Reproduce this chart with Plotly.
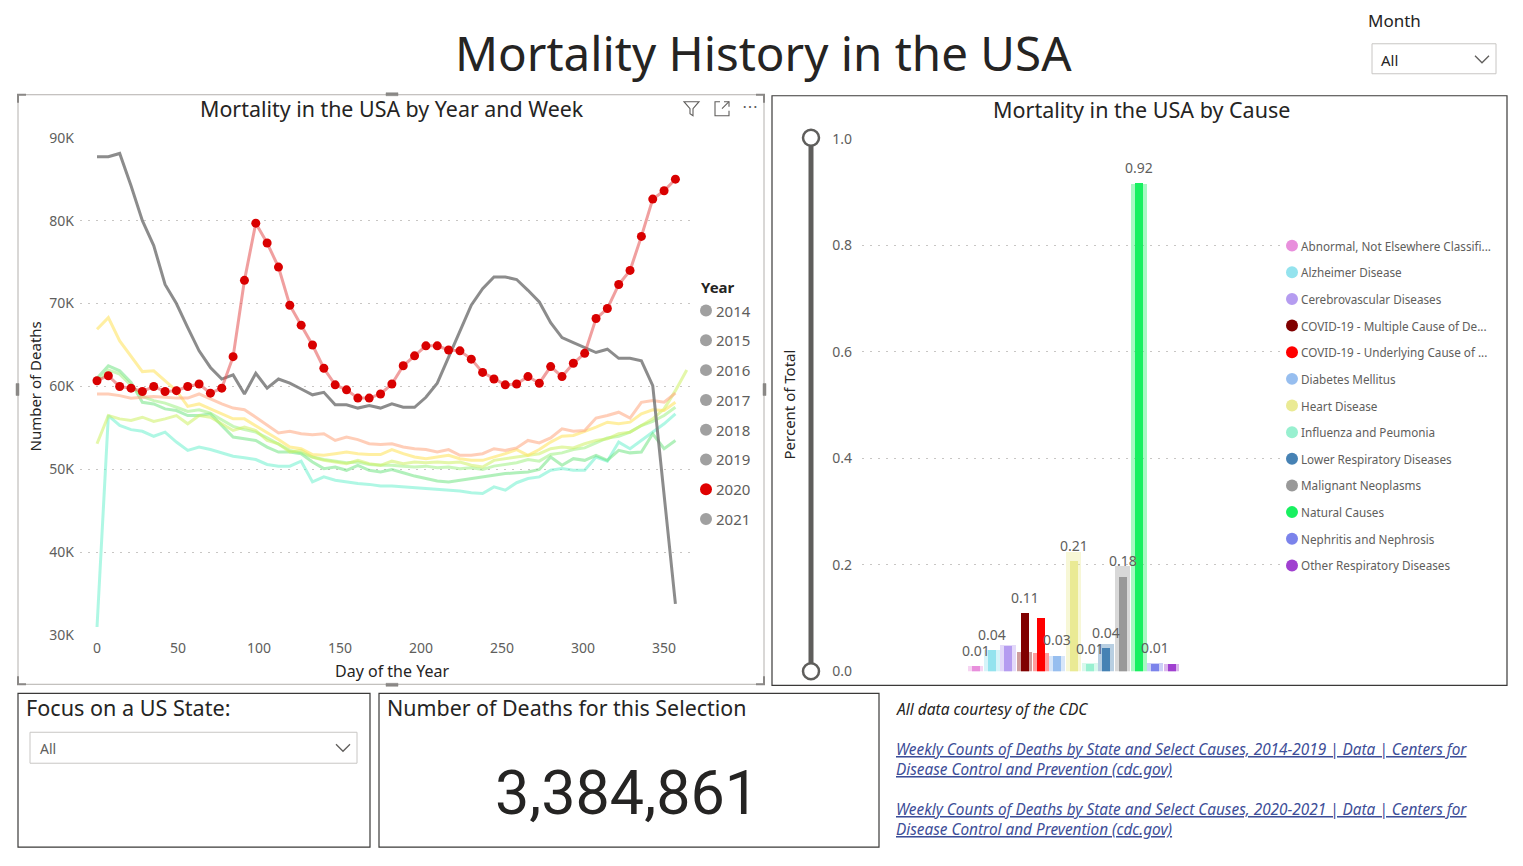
import plotly.graph_objects as go

W, H = 1523, 866
# the photographed page comes out vertically scaled (~0.979) and offset (~9 px);
# this mapping keeps reference pixel positions aligned
Y_SCALE = 0.9788
Y_OFF = 9.2
FONT = "Segoe UI, Noto Sans, sans-serif"
NUM_FONT = "Roboto, sans-serif"
DARK = "#252423"
GREY = "#605E5C"

# ---------------- data: weekly deaths ----------------
DAYS = [0, 7, 14, 21, 28, 35, 42, 49, 56, 63, 70, 77, 84, 91, 98, 105, 112, 119, 126,
        133, 140, 147, 154, 161, 168, 175, 182, 189, 196, 203, 210, 217, 224, 231, 238,
        245, 252, 259, 266, 273, 280, 287, 294, 301, 308, 315, 322, 329, 336, 343, 350,
        357, 364]

deaths_2014 = [31.0, 56.5, 55.3, 54.8, 54.6, 54.0, 54.5, 53.3, 52.3, 52.7, 52.4, 52.0, 51.6,
               51.4, 51.2, 50.6, 50.4, 50.4, 51.0, 48.5, 49.1, 48.7, 48.5, 48.3, 48.2, 48.0,
               48.0, 47.9, 47.8, 47.7, 47.6, 47.5, 47.4, 47.2, 47.1, 47.9, 47.5, 48.4, 48.9,
               49.1, 49.9, 50.1, 49.9, 49.9, 51.5, 51.0, 53.3, 52.5, 53.5, 54.4, 55.5, 56.7]
deaths_2015 = [61.0, 62.5, 61.9, 60.5, 58.1, 57.9, 57.3, 57.1, 56.5, 56.5, 56.7, 55.3, 53.9,
               53.7, 53.5, 52.7, 52.1, 52.1, 51.9, 50.9, 50.1, 50.3, 49.9, 50.5, 49.9, 49.7,
               50.0, 49.6, 49.2, 48.9, 48.6, 48.5, 48.7, 48.9, 49.1, 49.3, 49.5, 49.6, 49.7,
               50.0, 51.5, 50.5, 51.3, 51.1, 51.7, 51.1, 52.3, 52.0, 52.1, 54.3, 52.5, 53.5]
deaths_2016 = [60.5, 62.0, 61.5, 60.2, 58.8, 58.3, 58.0, 57.5, 57.0, 57.2, 56.8, 56.0, 55.2,
               54.8, 54.5, 53.8, 53.0, 52.3, 52.0, 51.5, 51.2, 51.0, 50.8, 50.9, 50.6, 50.5,
               50.5, 50.4, 50.3, 50.4, 50.2, 50.3, 50.1, 50.2, 50.0, 50.4, 50.6, 50.8, 51.2,
               51.0, 51.8, 52.0, 52.4, 52.6, 53.2, 53.8, 54.0, 54.5, 55.3, 55.8, 56.5, 57.5]
deaths_2017 = [53.1, 56.5, 56.1, 55.9, 56.3, 55.8, 56.1, 56.5, 55.5, 56.5, 56.3, 55.5, 54.7,
               55.1, 54.7, 53.5, 53.1, 52.1, 52.3, 51.5, 51.1, 50.9, 50.7, 51.1, 50.7, 50.5,
               51.0, 50.7, 50.9, 50.8, 50.9, 50.8, 50.9, 50.5, 50.3, 51.1, 51.3, 51.5, 51.7,
               51.9, 52.5, 52.7, 52.6, 53.1, 53.5, 53.7, 54.3, 54.5, 55.3, 56.1, 57.3, 59.5,
               62.0]
deaths_2018 = [66.9, 68.3, 65.5, 63.7, 61.8, 61.9, 60.7, 59.5, 57.6, 57.9, 57.3, 56.7, 56.1,
               56.1, 55.3, 54.5, 53.6, 52.7, 52.5, 51.8, 51.7, 51.9, 52.1, 51.9, 51.8, 51.8,
               52.4, 51.9, 51.5, 51.3, 51.5, 51.7, 51.3, 51.1, 51.1, 51.5, 51.9, 52.4, 51.7,
               52.4, 53.3, 54.0, 54.1, 54.6, 55.1, 55.7, 55.5, 55.7, 56.7, 57.2, 57.1, 58.1]
deaths_2019 = [59.1, 59.1, 58.9, 58.6, 58.7, 58.8, 58.7, 58.6, 58.6, 59.1, 58.5, 57.9, 57.4,
               57.2, 56.3, 55.3, 54.4, 54.6, 54.3, 54.2, 54.3, 53.5, 53.9, 53.6, 53.1, 53.0,
               53.1, 52.7, 52.5, 52.4, 52.1, 52.4, 51.7, 51.7, 51.9, 52.5, 52.3, 52.6, 53.5,
               53.2, 53.8, 54.9, 54.6, 54.7, 56.2, 56.5, 56.9, 56.2, 58.1, 58.3, 58.1, 59.2]
deaths_2020 = [60.7, 61.3, 60.0, 59.8, 59.4, 60.0, 59.4, 59.5, 60.0, 60.3, 59.2, 59.8, 63.6,
               72.8, 79.7, 77.3, 74.4, 69.8, 67.4, 65.0, 62.2, 60.2, 59.6, 58.6, 58.6, 59.1,
               60.3, 62.5, 63.7, 64.9, 64.9, 64.4, 64.3, 63.3, 61.7, 60.9, 60.2, 60.3, 61.2,
               60.4, 62.4, 61.2, 62.8, 64.0, 68.2, 69.4, 72.3, 74.0, 78.1, 82.6, 83.6, 85.0]
deaths_2021 = [87.7, 87.7, 88.1, 84.2, 80.0, 77.0, 72.3, 70.0, 67.1, 64.3, 62.3, 60.9, 61.4,
               59.1, 61.6, 59.8, 60.9, 60.4, 59.7, 59.0, 59.3, 57.8, 57.8, 57.4, 57.7, 57.4,
               57.9, 57.5, 57.5, 58.7, 60.4, 63.5, 66.7, 69.8, 71.8, 73.2, 73.2, 72.9, 71.6,
               70.2, 67.7, 65.9, 65.3, 64.7, 64.1, 64.5, 63.4, 63.4, 63.1, 60.1, 47.0, 33.8]

YEARS = ["2014", "2015", "2016", "2017", "2018", "2019", "2020", "2021"]
YEAR_SERIES = [deaths_2014, deaths_2015, deaths_2016, deaths_2017, deaths_2018,
               deaths_2019, deaths_2020, deaths_2021]
YEAR_COLORS = ["rgba(110,240,205,0.55)", "rgba(100,225,120,0.50)", "rgba(150,240,120,0.50)",
               "rgba(205,240,100,0.55)", "rgba(255,228,100,0.60)", "rgba(255,165,125,0.55)",
               "rgba(228,80,80,0.55)", "rgba(120,120,120,0.85)"]
LEGEND_DOT_COLORS = ["#A0A0A0", "#A0A0A0", "#A0A0A0", "#A0A0A0", "#A0A0A0", "#A0A0A0",
                     "#E00000", "#A0A0A0"]

Y_TICKS = [30000, 40000, 50000, 60000, 70000, 80000, 90000]
Y_TICK_TEXT = ["30K", "40K", "50K", "60K", "70K", "80K", "90K"]
X_TICKS = [0, 50, 100, 150, 200, 250, 300, 350]

# ---------------- data: causes ----------------
CAUSES = ["Abnormal, Not Elsewhere Classifi...", "Alzheimer Disease", "Cerebrovascular Diseases",
          "COVID-19 - Multiple Cause of De...", "COVID-19 - Underlying Cause of ...",
          "Diabetes Mellitus", "Heart Disease", "Influenza and Peumonia",
          "Lower Respiratory Diseases", "Malignant Neoplasms", "Natural Causes",
          "Nephritis and Nephrosis", "Other Respiratory Diseases"]
CAUSE_COLORS = ["#E88FDC", "#94E3EE", "#B59CF0", "#800000", "#FF0000", "#97BEEF", "#EAEA94",
                "#98F0D0", "#4682B4", "#999999", "#18F060", "#7B83EB", "#A040D0"]
share_all = [0.011, 0.041, 0.050, 0.036, 0.034, 0.030, 0.224, 0.016, 0.052, 0.199, 0.915,
             0.017, 0.015]
share_sel = [0.010, 0.040, 0.048, 0.110, 0.100, 0.030, 0.207, 0.014, 0.044, 0.178, 0.917,
             0.015, 0.014]
LABEL_SHOWN = [True, True, False, True, False, True, True, True, True, True, True, True, False]
CAUSE_POS = list(range(len(CAUSES)))

TOTAL_DEATHS = 3384861


# ---------------- helpers (reference pixel -> paper) ----------------
def px(x):
    return x / W


def py(y):
    return 1 - ((y - Y_OFF) / Y_SCALE) / H


def path(points, close=False):
    s = "M " + " L ".join(f"{px(a):.5f},{py(b):.5f}" for a, b in points)
    return s + (" Z" if close else "")


fig = go.Figure()

# ---------------- left line chart ----------------
draw_order = [0, 1, 2, 3, 4, 5, 7]
for i in draw_order:
    vals = [v * 1000 for v in YEAR_SERIES[i]]
    fig.add_trace(go.Scatter(
        x=DAYS[:len(vals)], y=vals, mode="lines", name=YEARS[i],
        line=dict(color=YEAR_COLORS[i], width=3), showlegend=False,
        xaxis="x", yaxis="y"))
vals20 = [v * 1000 for v in deaths_2020]
fig.add_trace(go.Scatter(
    x=DAYS[:len(vals20)], y=vals20, mode="lines+markers", name="2020",
    line=dict(color=YEAR_COLORS[6], width=3),
    marker=dict(color="#D90000", size=9), showlegend=False, xaxis="x", yaxis="y"))

# ---------------- right bar chart ----------------
fig.add_trace(go.Bar(x=CAUSE_POS, y=share_all, width=0.96, marker=dict(color=CAUSE_COLORS, line=dict(width=0)),
                     opacity=0.38, xaxis="x2", yaxis="y2", showlegend=False, name="All"))
fig.add_trace(go.Bar(x=CAUSE_POS, y=share_sel, width=0.5, marker=dict(color=CAUSE_COLORS, line=dict(width=0)),
                     xaxis="x2", yaxis="y2", showlegend=False, name="Selection",
                     hovertext=CAUSES))

annotations = []
for i, shown in enumerate(LABEL_SHOWN):
    if shown:
        annotations.append(dict(x=CAUSE_POS[i], y=share_sel[i], xref="x2", yref="y2",
                                text=f"{share_sel[i]:.2f}", showarrow=False, yanchor="bottom",
                                yshift=4, font=dict(size=14, color=GREY, family=FONT)))


def txt(x, y, s, size, color=DARK, xanchor="left", textangle=0, yanchor="middle", family=FONT):
    annotations.append(dict(x=px(x), y=py(y), xref="paper", yref="paper", text=s,
                            showarrow=False, xanchor=xanchor, yanchor=yanchor,
                            textangle=textangle, font=dict(size=size, color=color, family=family)))


# titles and texts
txt(763, 52, "Mortality History in the USA", 47.5, xanchor="center")
txt(1366, 20, "Month", 17)
txt(1379, 59, "All", 15)
txt(392, 108, "Mortality in the USA by Year and Week", 21.4, xanchor="center")
txt(1141, 109, "Mortality in the USA by Cause", 21.5, xanchor="center")
txt(35, 386, "Number of Deaths", 15, xanchor="center", textangle=-90)
txt(392, 671, "Day of the Year", 16, xanchor="center")
txt(789, 404, "Percent of Total", 15, xanchor="center", textangle=-90)
txt(24, 707, "Focus on a US State:", 21.6)
txt(38, 748, "All", 14, color=GREY)
txt(385, 707, "Number of Deaths for this Selection", 21.4)
txt(627, 793, f"{TOTAL_DEATHS:,}", 61, xanchor="center", family=NUM_FONT)
txt(894, 709, "<i>All data courtesy of the CDC</i>", 15.5)
LINK = "#3D4E98"
txt(894, 749, "<i><u>Weekly Counts of Deaths by State and Select Causes, 2014-2019 | Data | Centers for</u></i>", 15.35, color=LINK)
txt(894, 769, "<i><u>Disease Control and Prevention (cdc.gov)</u></i>", 15.35, color=LINK)
txt(894, 809, "<i><u>Weekly Counts of Deaths by State and Select Causes, 2020-2021 | Data | Centers for</u></i>", 15.35, color=LINK)
txt(894, 829, "<i><u>Disease Control and Prevention (cdc.gov)</u></i>", 15.35, color=LINK)
txt(750, 105, "⋯", 16, color=GREY, xanchor="center")

shapes = []


def rect(x0, y0, x1, y1, color, width=1, fill="rgba(0,0,0,0)"):
    shapes.append(dict(type="rect", xref="paper", yref="paper", x0=px(x0), x1=px(x1),
                       y0=py(y1), y1=py(y0), line=dict(color=color, width=width), fillcolor=fill))


def circle(cx, cy, r, fill, line_color=None, lw=0):
    shapes.append(dict(type="circle", xref="paper", yref="paper", x0=px(cx - r), x1=px(cx + r),
                       y0=py(cy + r), y1=py(cy - r), fillcolor=fill,
                       line=dict(color=line_color or fill, width=lw)))


def pline(points, color, width=1.5, close=False, fill="rgba(0,0,0,0)"):
    shapes.append(dict(type="path", xref="paper", yref="paper", path=path(points, close),
                       line=dict(color=color, width=width), fillcolor=fill))


# panel borders
rect(18, 94, 764, 684, "#B3B0AD", 1)
rect(772, 95, 1507, 685, "#3B3A39", 1.2)
rect(18, 693, 370, 847, "#3B3A39", 1.2)
rect(379, 693, 879, 847, "#3B3A39", 1.2)
# focus handles on the selected visual
for (a, b, c, d) in [(386, 92, 398, 95), (386, 683, 398, 686), (16, 383, 19, 395), (763, 383, 766, 395)]:
    rect(a, b, c, d, "#8A8886", 0.5, fill="#8A8886")
pline([(18, 102), (18, 94), (26, 94)], "#8A8886", 2)
pline([(756, 94), (764, 94), (764, 102)], "#8A8886", 2)
pline([(18, 676), (18, 684), (26, 684)], "#8A8886", 2)
pline([(756, 684), (764, 684), (764, 676)], "#8A8886", 2)
# dropdowns
rect(1372, 43, 1496, 73, "#C8C6C4", 1)
pline([(1475, 55), (1482, 62), (1489, 55)], GREY, 1.3)
rect(30, 732, 357, 763, "#C8C6C4", 1)
pline([(336, 744), (343, 751), (350, 744)], GREY, 1.3)
# visual header icons
pline([(684, 101), (699, 101), (693, 108), (693, 115), (690, 113), (690, 108)], GREY, 1.1, close=True)
pline([(720, 101), (715, 101), (715, 115), (729, 115), (729, 110)], GREY, 1.1)
pline([(722, 108), (729, 101)], GREY, 1.1)
pline([(724, 101), (729, 101), (729, 106)], GREY, 1.1)
# zoom slider on the cause chart
pline([(811, 137), (811, 671)], "#5F5E5C", 5)
circle(811, 137, 8, "white", "#5F5E5C", 2.5)
circle(811, 671, 8, "white", "#5F5E5C", 2.5)

# year legend
txt(699, 286, "<b>Year</b>", 15)
for i, y in enumerate(YEARS):
    cy = 310 + 29.8 * i
    circle(706, cy, 6, LEGEND_DOT_COLORS[i])
    txt(714, cy, y, 15, color=GREY)

# cause legend
for i, c in enumerate(CAUSES):
    cy = 245 + 26.67 * i
    circle(1292, cy, 6, CAUSE_COLORS[i])
    txt(1299, cy, c, 11.7, color=GREY)

GRID = dict(gridcolor="#C8C6C4", griddash="2px,6px", gridwidth=1.3)
fig.update_layout(
    width=W, height=H, margin=dict(l=0, r=0, t=0, b=0), autosize=False,
    paper_bgcolor="white", plot_bgcolor="white",
    font=dict(family=FONT, color=GREY),
    barmode="overlay", bargap=0,
    annotations=annotations, shapes=shapes,
    xaxis=dict(domain=[px(80), px(690)], range=[-10.5, 366], tickvals=X_TICKS,
               showgrid=False, zeroline=False, showline=False, ticks="",
               tickfont=dict(size=14, color=GREY), ticklabelstandoff=3, anchor="y"),
    yaxis=dict(domain=[py(635), py(137)], range=[30000, 90000], tickvals=Y_TICKS,
               ticktext=Y_TICK_TEXT, zeroline=False, showline=False, ticks="",
               tickfont=dict(size=14, color=GREY), ticklabelstandoff=5, anchor="x", **GRID),
    xaxis2=dict(domain=[px(862), px(1282)], range=[-6.96, 18.76], visible=False, anchor="y2"),
    yaxis2=dict(domain=[py(671), py(138)], range=[0, 1], dtick=0.2, tickformat=".1f",
                zeroline=False, showline=False, ticks="", tickfont=dict(size=14, color=GREY),
                ticklabelstandoff=9, anchor="x2", **GRID),
)

fig.write_html("out.html", config={"displayModeBar": False, "responsive": False},
               post_script="document.body.style.margin='0';document.body.style.overflow='hidden';")
